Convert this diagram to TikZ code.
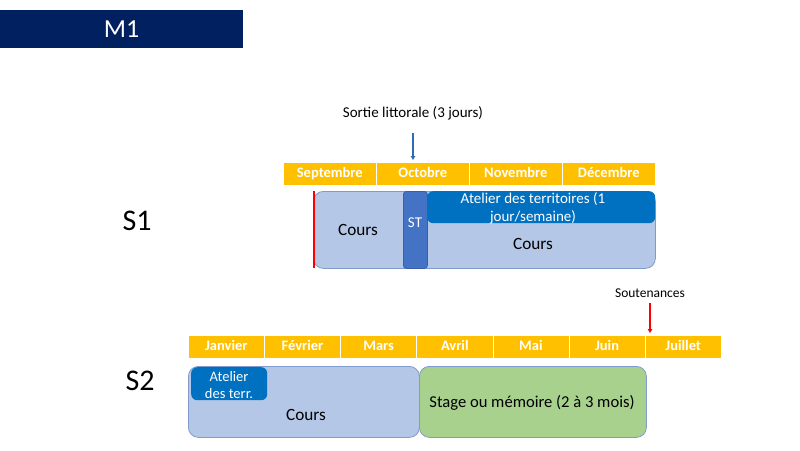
\documentclass[tikz,border=0pt]{standalone}
\usepackage{fontspec}
\setmainfont{Carlito}
\usetikzlibrary{arrows.meta}
\definecolor{navy}{HTML}{002060}
\definecolor{gold}{HTML}{FFC000}
\definecolor{lightblue}{HTML}{B4C7E7}
\definecolor{edgeblue}{HTML}{7F9BCB}
\definecolor{stblue}{HTML}{4472C4}
\definecolor{stedge}{HTML}{3A5FA8}
\definecolor{atblue}{HTML}{0070C0}
\definecolor{green}{HTML}{A9D18E}
\definecolor{arrowblue}{HTML}{2E6DB4}
\tikzset{
  fs/.style={font=\fontsize{#1}{1.2\dimexpr #1pt\relax}\selectfont},
  month/.style={rectangle, fill=gold, draw=white, line width=0.6pt, inner sep=0pt,
    minimum height=23pt, text height=10pt, text depth=3pt, anchor=north west, text=white,
    font=\fontsize{14.5}{16}\selectfont\bfseries},
  period/.style={rectangle, rounded corners=10pt, fill=lightblue, draw=edgeblue, line width=0.8pt,
    inner sep=0pt, anchor=north west},
  plain/.style={inner sep=0pt, text=black},
  marker/.style={line width=1.2pt, -{Triangle[length=4pt,width=4.5pt]}}
}
\begin{document}
\begin{tikzpicture}[x=1pt,y=-1pt]
\useasboundingbox (0,0) rectangle (800,450);
% title
\node[rectangle, fill=navy, inner sep=0pt, minimum width=243pt, minimum height=38pt, anchor=north west,
  text=white, fs=26] (title) at (0,10) {M1};
% S1
\node[plain, fs=30] (s1) at (137,221) {S1};
\foreach \m/\n [count=\i from 0] in {Septembre/sep, Octobre/oct, Novembre/nov, Décembre/dec}{
  \node[month, minimum width=93pt] (\n) at (283+93*\i,162) {\m};
}
\node[plain, fs=15] (sortie) at (413,113) {Sortie littorale (3 jours)};
\coordinate (sA) at (413,133);
\coordinate (sB) at (413,160);
\draw[marker, arrowblue] (sA) -- (sB);
\node[period, minimum width=342pt, minimum height=77pt] (box1) at (313,191) {};
\node[rectangle, rounded corners=3pt, fill=stblue, draw=stedge, line width=0.8pt, inner sep=0pt,
  minimum width=24pt, minimum height=77pt, anchor=north west] (st) at (403,191) {};
\node[text=white, fs=15, inner sep=0pt] (sttxt) at (415,223) {ST};
\node[rectangle, rounded corners=6pt, fill=atblue, inner sep=0pt, minimum width=228pt, minimum height=32pt,
  anchor=north west] (atelier) at (427,191) {};
\node[text=white, fs=15, align=center, inner sep=0pt] (ateliertxt) at (533,208) {Atelier des territoires (1\\jour/semaine)};
\node[plain, fs=17.2] (cours1a) at (358,230) {Cours};
\node[plain, fs=17.2] (cours1b) at (533,244) {Cours};
\coordinate (rA) at (314,191);
\coordinate (rB) at (314,268);
\draw[red, line width=1.6pt] (rA) -- (rB);
% S2
\node[plain, fs=30] (s2) at (140,381) {S2};
\foreach \m/\n [count=\i from 0] in {Janvier/jan, Février/fev, Mars/mar, Avril/avr, Mai/mai, Juin/jun, Juillet/jul}{
  \node[month, minimum width=76.14pt] (\n) at (188+76.14*\i,335) {\m};
}
\node[plain, fs=13.5] (sout) at (650,293) {Soutenances};
\coordinate (tA) at (650,303);
\coordinate (tB) at (650,333);
\draw[marker, red] (tA) -- (tB);
\node[period, minimum width=231pt, minimum height=71pt] (box2) at (188,366) {};
\node[rectangle, rounded corners=6pt, fill=atblue, inner sep=0pt, minimum width=76pt, minimum height=33pt,
  anchor=north west] (atelier2) at (191,367) {};
\node[text=white, fs=14.5, align=center, inner sep=0pt] (atelier2txt) at (229,385) {Atelier\\des terr.};
\node[plain, fs=17.2] (cours2) at (306,415) {Cours};
\node[period, fill=green, minimum width=227pt, minimum height=71pt] (stage) at (419,366) {};
\node[plain, fs=16.6] (stagetxt) at (532,403) {Stage ou mémoire (2 à 3 mois)};
\end{tikzpicture}
\end{document}
